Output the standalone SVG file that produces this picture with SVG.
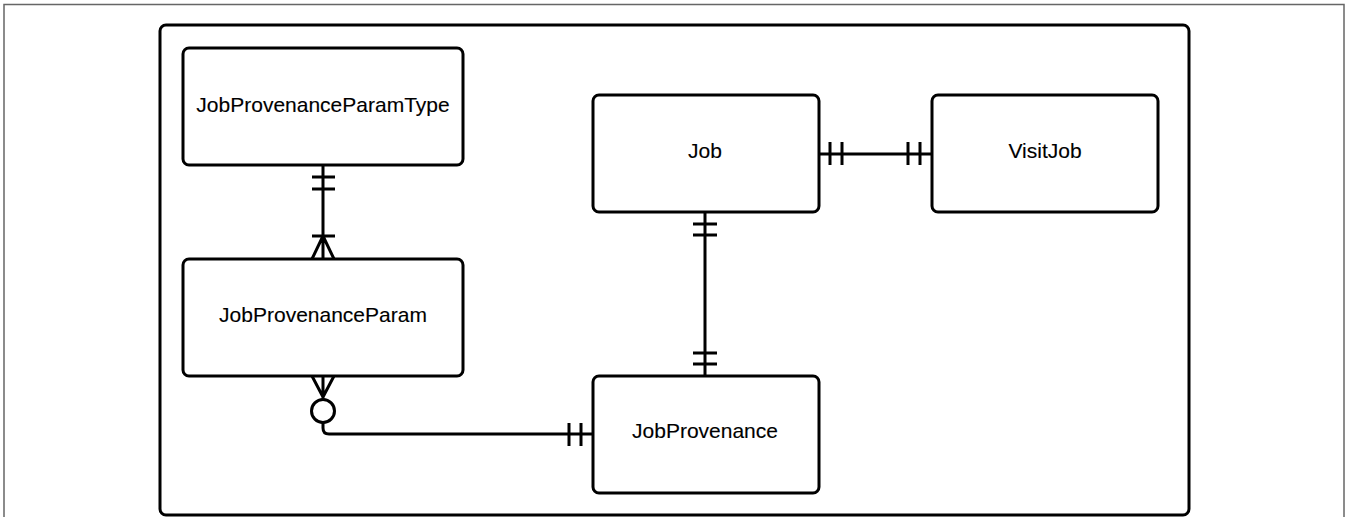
<svg xmlns="http://www.w3.org/2000/svg" width="1346" height="517" viewBox="0 0 1346 517">
<style>
.frame{fill:none;stroke:#666;stroke-width:1.5}
.outer{fill:#fff;stroke:#000;stroke-width:3}
.ent{fill:#fff;stroke:#000;stroke-width:3}
.lbl{font-family:"Liberation Sans",Arial,sans-serif;font-size:21px;fill:#000;stroke:#000;stroke-width:0.12;text-anchor:middle}
.ln{fill:none;stroke:#000;stroke-width:3}
</style>
<rect x="0" y="0" width="1346" height="517" fill="#fff"/>
<rect class="frame" x="4" y="4.5" width="1340" height="530"/>
<rect class="outer" x="160" y="25" width="1029" height="490" rx="6"/>
<g id="connectors">
  <path class="ln" d="M323 165 V259 M312 177 H335 M312 189 H335 M312 236 H335 M323 236 L312 259 M323 236 L334 259"/>
  <path class="ln" d="M312 376 L323 397 L334 376 M323 376 V399 M323 423 V428 Q323 434 329 434 H593 M569 423 V446 M581 423 V446"/>
  <circle class="ln" cx="323" cy="411" r="11.5" fill="#fff"/>
  <path class="ln" d="M819 154 H932 M830 142 V165 M842 142 V165 M908 142 V165 M920 142 V165"/>
  <path class="ln" d="M705 212 V376 M693 224 H717 M693 235 H717 M693 353 H717 M693 364 H717"/>
</g>
<g id="JobProvenanceParamType">
  <rect class="ent" x="183" y="48" width="280" height="117" rx="6"/>
  <text class="lbl" x="323" y="112">JobProvenanceParamType</text>
</g>
<g id="JobProvenanceParam">
  <rect class="ent" x="183" y="259" width="280" height="117" rx="6"/>
  <text class="lbl" x="323" y="322">JobProvenanceParam</text>
</g>
<g id="Job">
  <rect class="ent" x="593" y="95" width="226" height="117" rx="6"/>
  <text class="lbl" x="705" y="158">Job</text>
</g>
<g id="VisitJob">
  <rect class="ent" x="932" y="95" width="226" height="117" rx="6"/>
  <text class="lbl" x="1045" y="158">VisitJob</text>
</g>
<g id="JobProvenance">
  <rect class="ent" x="593" y="376" width="226" height="117" rx="6"/>
  <text class="lbl" x="705" y="438">JobProvenance</text>
</g>
</svg>
